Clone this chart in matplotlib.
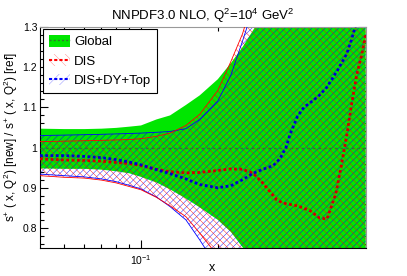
import matplotlib
matplotlib.use("Agg")
import matplotlib.pyplot as plt
import numpy as np
from matplotlib.patches import Patch
from matplotlib.lines import Line2D
from matplotlib.ticker import LogLocator, NullFormatter, MultipleLocator, FuncFormatter

plt.rcParams['font.family'] = ['Liberation Sans', 'DejaVu Sans']
plt.rcParams['mathtext.fontset'] = 'custom'
plt.rcParams['mathtext.rm'] = 'Liberation Sans'
plt.rcParams['mathtext.it'] = 'Liberation Sans:italic'
plt.rcParams['mathtext.bf'] = 'Liberation Sans:bold'
plt.rcParams['hatch.linewidth'] = 0.3

# band grid (x) and bands
x_band = [0.0402, 0.05, 0.06, 0.07, 0.08, 0.09, 0.1, 0.115, 0.13, 0.15, 0.17,
          0.2, 0.225, 0.25, 0.3, 0.4, 0.55, 0.76]
global_lo = [0.948, 0.947, 0.947, 0.945, 0.941, 0.936, 0.927, 0.913, 0.896, 0.873, 0.851,
             0.82, 0.79, 0.752, 0.68, 0.55, 0.4, 0.3]
global_hi = [1.047, 1.046, 1.046, 1.047, 1.049, 1.052, 1.055, 1.07, 1.08, 1.106, 1.13,
             1.17, 1.21, 1.25, 1.33, 1.5, 1.7, 1.9]
dis_lo = [0.93, 0.926, 0.924, 0.919, 0.912, 0.903, 0.895, 0.876, 0.855, 0.828, 0.787,
          0.73, 0.68, 0.63, 0.55, 0.45, 0.35, 0.3]
dis_hi = [1.015, 1.016, 1.017, 1.018, 1.019, 1.02, 1.022, 1.028, 1.036, 1.055, 1.083,
          1.142, 1.214, 1.283, 1.45, 1.7, 1.9, 2.0]
dy_lo = [0.934, 0.93, 0.927, 0.922, 0.915, 0.906, 0.897, 0.877, 0.853, 0.82, 0.77,
         0.70, 0.65, 0.60, 0.52, 0.42, 0.33, 0.3]
dy_hi = [1.03, 1.031, 1.032, 1.033, 1.034, 1.035, 1.036, 1.038, 1.04, 1.047, 1.07,
         1.116, 1.18, 1.265, 1.42, 1.7, 1.9, 2.0]

# central values
x_dis = [0.0402, 0.05, 0.06, 0.07, 0.08, 0.09, 0.1, 0.115, 0.13, 0.15, 0.17, 0.2,
         0.225, 0.25, 0.275, 0.3, 0.34, 0.36, 0.41, 0.46, 0.5, 0.535, 0.58, 0.61,
         0.64, 0.67, 0.70, 0.735, 0.76]
dis_cv = [0.972, 0.969, 0.968, 0.966, 0.963, 0.96, 0.955, 0.946, 0.94, 0.937, 0.938, 0.943,
          0.947, 0.946, 0.936, 0.912, 0.87, 0.862, 0.855, 0.843, 0.825, 0.822, 0.885, 0.955,
          1.03, 1.11, 1.18, 1.235, 1.28]
x_dy = [0.0402, 0.05, 0.06, 0.07, 0.08, 0.09, 0.1, 0.115, 0.13, 0.15, 0.17, 0.2,
        0.225, 0.25, 0.275, 0.3, 0.33, 0.35, 0.37, 0.385, 0.41, 0.435, 0.47, 0.5,
        0.535, 0.59, 0.64, 0.67, 0.69, 0.72]
dy_cv = [0.98, 0.98, 0.978, 0.975, 0.97, 0.964, 0.957, 0.945, 0.935, 0.922, 0.908, 0.90,
         0.905, 0.92, 0.936, 0.946, 0.955, 0.972, 1.0, 1.035, 1.077, 1.1, 1.116, 1.13,
         1.15, 1.193, 1.233, 1.27, 1.30, 1.36]

green = '#00e600'

fig = plt.figure(figsize=(4.07, 2.76), dpi=100)
ax = fig.add_axes([0.0983, 0.1014, 0.801, 0.8007])

ax.fill_between(x_band, global_lo, global_hi, facecolor=green, edgecolor='none', zorder=1)
ax.fill_between(x_band, dy_lo, dy_hi, facecolor='none', edgecolor='blue',
                hatch='/////', linewidth=0, zorder=2)
ax.fill_between(x_band, dis_lo, dis_hi, facecolor='none', edgecolor='red',
                hatch='\\\\\\\\\\', linewidth=0, zorder=2)

for lo, hi, c in [(dy_lo, dy_hi, 'blue'), (dis_lo, dis_hi, 'red')]:
    ax.plot(x_band, lo, color=c, lw=0.6, zorder=3)
    ax.plot(x_band, hi, color=c, lw=0.6, zorder=3)

ax.axhline(1.0, color='#2d7a2d', lw=1.0, dashes=(2, 2), zorder=4)
ax.plot(x_dis, dis_cv, color='#d00000', lw=2.0, dashes=(1, 0.9), zorder=5)
ax.plot(x_dy, dy_cv, color='#0000d0', lw=2.0, dashes=(1, 0.9), zorder=5)

ax.set_xscale('log')
ax.set_xlim(0.0402, 0.762)
ax.set_ylim(0.75, 1.3)
ax.set_axisbelow(True)

ax.xaxis.set_major_locator(LogLocator(base=10))
ax.xaxis.set_minor_locator(LogLocator(base=10, subs=np.arange(2, 10)))
ax.xaxis.set_minor_formatter(NullFormatter())
ax.yaxis.set_major_locator(MultipleLocator(0.1))
ax.yaxis.set_minor_locator(MultipleLocator(0.02))
ax.yaxis.set_major_formatter(FuncFormatter(lambda v, p: f'{v:g}'))
ax.tick_params(which='both', direction='in', top=True, right=True, labelsize=7.5, color='black')
ax.tick_params(which='major', length=5.8, width=0.8)
ax.tick_params(which='minor', length=2.9, width=0.8)
ax.tick_params(axis='y', pad=2)

for s in ['left', 'bottom']:
    ax.spines[s].set_color('black')
for s in ['top', 'right']:
    ax.spines[s].set_color('#999999')

ax.set_title('NNPDF3.0 NLO, Q$^{2}$=10$^{4}$ GeV$^{2}$', fontsize=9.5, pad=5)
ax.set_xlabel('x', fontsize=9)
ax.xaxis.set_label_coords(0.528, -0.065)
ax.set_ylabel('s$^{+}$ ( x, Q$^{2}$) [new] / s$^{+}$ ( x, Q$^{2}$) [ref]', fontsize=8.5)
ax.yaxis.set_label_coords(-0.062, 0.5)

h_global = (Patch(facecolor=green, edgecolor='none'),
            Line2D([], [], color='#2d7a2d', lw=1, dashes=(1.5, 1.5)))
h_dis = (Patch(facecolor='white', edgecolor='#ff8080', hatch='\\\\\\', linewidth=0),
         Line2D([], [], color='red', lw=1.5, dashes=(1.5, 1)))
h_dy = (Patch(facecolor='white', edgecolor='#8080ff', hatch='///', linewidth=0),
        Line2D([], [], color='blue', lw=1.5, dashes=(1.5, 1)))
leg = ax.legend([h_global, h_dis, h_dy], ['Global', 'DIS', 'DIS+DY+Top'],
                loc='upper left', bbox_to_anchor=(0.009, 0.991), borderaxespad=0,
                fontsize=9.5, handlelength=1.6, handleheight=1.0, handletextpad=0.3,
                labelspacing=0.45, borderpad=0.45, fancybox=False, framealpha=1,
                edgecolor='black')
leg.get_frame().set_linewidth(0.8)
leg.set_zorder(10)

fig.savefig('out.png', dpi=100)
